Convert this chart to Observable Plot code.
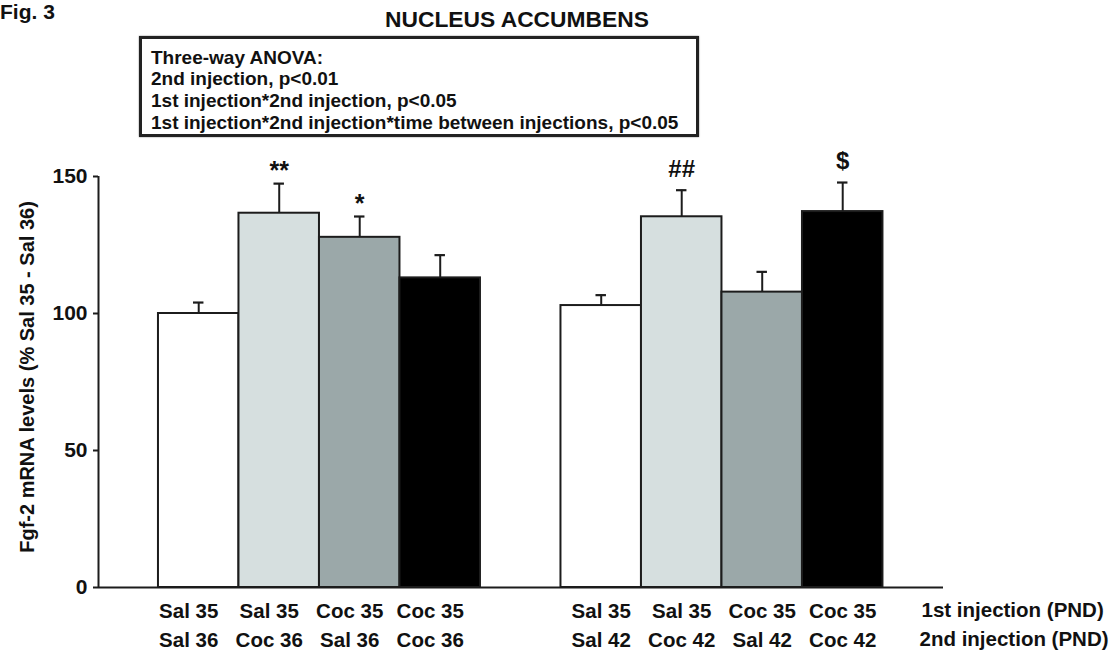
<!DOCTYPE html>
<html><head><meta charset="utf-8">
<script src="https://cdn.jsdelivr.net/npm/d3@7"></script>
<script src="https://cdn.jsdelivr.net/npm/@observablehq/plot@0.6"></script>
<style>
body{margin:0;background:#fff;font-family:"Liberation Sans",Arial,Helvetica,sans-serif;font-weight:bold;color:#111}
#wrap{position:relative;width:1112px;height:657px;overflow:hidden}
#head{position:relative;height:140px}
#fig{position:absolute;left:0;top:0;font-size:21px;line-height:1.1}
#title{position:absolute;left:385px;top:8px;font-size:22.8px;line-height:1}
#box{position:absolute;left:139px;top:36px;width:560px;height:101px;box-sizing:border-box;border:3px solid #222;padding:7.5px 0 0 9px;font-size:19px;line-height:21.7px;white-space:nowrap;box-shadow:0 0 1.5px #777}
#chart svg{display:block}
</style></head><body>
<div id="wrap">
  <div id="head">
    <div id="fig"></div>
    <div id="title"></div>
    <div id="box"></div>
  </div>
  <div id="chart"></div>
</div>
<script>
// ---- data ----
const figLabel = "Fig. 3";
const title = "NUCLEUS ACCUMBENS";
const anovaLines = [
  "Three-way ANOVA:",
  "2nd injection, p<0.01",
  "1st injection*2nd injection, p<0.05",
  "1st injection*2nd injection*time between injections, p<0.05"
];
const firstInjection  = ["Sal 35","Sal 35","Coc 35","Coc 35","Sal 35","Sal 35","Coc 35","Coc 35"];
const secondInjection = ["Sal 36","Coc 36","Sal 36","Coc 36","Sal 42","Coc 42","Sal 42","Coc 42"];
const groupIndex      = [0,0,0,0,1,1,1,1];
const treatment       = ["Sal-Sal","Sal-Coc","Coc-Sal","Coc-Coc","Sal-Sal","Sal-Coc","Coc-Sal","Coc-Coc"];
const means           = [100, 136.6, 127.8, 113.0, 102.9, 135.3, 107.8, 137.2];
const sems            = [4.0, 10.8, 7.6, 8.3, 3.8, 9.7, 7.4, 10.6];
const significance    = ["", "**", "*", "", "", "##", "", "$"];
const yTicks = [0, 50, 100, 150];
const yLabel = "Fgf-2 mRNA levels (% Sal 35 - Sal 36)";
const rowLabels = ["1st injection (PND)", "2nd injection (PND)"];

// ---- styles ----
const treatments = ["Sal-Sal","Sal-Coc","Coc-Sal","Coc-Coc"];
const barColors = ["#ffffff","#d6dfdf","#9ba8a9","#000000"];
const FONT = '"Liberation Sans", Arial, Helvetica, sans-serif';
const INK = "#1c1c1c";

document.getElementById("fig").textContent = figLabel;
document.getElementById("title").textContent = title;
const box = document.getElementById("box");
anovaLines.forEach(t => { const d = document.createElement("div"); d.textContent = t; box.appendChild(d); });

// table built from arrays: slot = position within group + one empty slot between groups
const rows = means.map((m, i) => ({
  first: firstInjection[i], second: secondInjection[i], group: groupIndex[i],
  treatment: treatment[i], mean: m, sem: sems[i], sig: significance[i],
  slot: (i % 4) + groupIndex[i] * 5
}));
const xDomain = [-0.745, 9.752];
const capHalf = 0.065;

const chart = Plot.plot({
  width: 1112, height: 517,
  marginLeft: 98, marginRight: 169, marginTop: 36, marginBottom: 70,
  style: {fontFamily: FONT, fontWeight: "bold", fontSize: "20px", color: "#111", background: "white", overflow: "visible"},
  x: {type: "linear", domain: xDomain, axis: null},
  y: {domain: [0, 150]},
  color: {type: "ordinal", domain: treatments, range: barColors},
  marks: [
    // error bars (upper only)
    Plot.ruleX(rows, {x: d => d.slot + 0.5, y1: "mean", y2: d => d.mean + d.sem, stroke: INK, strokeWidth: 2}),
    Plot.ruleY(rows, {y: d => d.mean + d.sem, x1: d => d.slot + 0.5 - capHalf, x2: d => d.slot + 0.5 + capHalf, stroke: INK, strokeWidth: 2.2}),
    // bars
    Plot.rectY(rows, {x1: "slot", x2: d => d.slot + 1, y1: 0, y2: "mean", fill: "treatment", stroke: INK, strokeWidth: 2}),
    // axes lines
    Plot.ruleY([0], {stroke: INK, strokeWidth: 2}),
    Plot.ruleX([xDomain[0]], {y1: 0, y2: yTicks[yTicks.length - 1], stroke: INK, strokeWidth: 2}),
    Plot.axisY({ticks: yTicks, tickSize: 5, text: null, label: null, stroke: INK, strokeWidth: 2}),
    Plot.text(yTicks, {y: d => d, text: d => String(d), frameAnchor: "left", textAnchor: "end", dx: -11, fontSize: 21, fill: "#111"}),
    // significance markers
    Plot.text(rows.filter(d => d.sig.includes("*")), {x: d => d.slot + 0.5, y: d => d.mean + d.sem, text: "sig", lineAnchor: "bottom", dy: -5, fontSize: 25, fill: "#111"}),
    Plot.text(rows.filter(d => d.sig && !d.sig.includes("*")), {x: d => d.slot + 0.5, y: d => d.mean + d.sem, text: "sig", lineAnchor: "bottom", dy: -13.5, fontSize: 24, fill: "#111"}),
    // category labels
    Plot.text(rows.filter(d => d.group === 0), {x: d => d.slot + 0.5, text: "first", frameAnchor: "bottom", dx: -10, dy: 30, fontSize: 20.5, fill: "#111"}),
    Plot.text(rows.filter(d => d.group === 0), {x: d => d.slot + 0.5, text: "second", frameAnchor: "bottom", dx: -10, dy: 59, fontSize: 20.5, fill: "#111"}),
    Plot.text(rows.filter(d => d.group === 1), {x: d => d.slot + 0.5, text: "first", frameAnchor: "bottom", dy: 30, fontSize: 20.5, fill: "#111"}),
    Plot.text(rows.filter(d => d.group === 1), {x: d => d.slot + 0.5, text: "second", frameAnchor: "bottom", dy: 59, fontSize: 20.5, fill: "#111"}),
    // row labels on the right
    Plot.text([rowLabels[0]], {text: d => d, frameAnchor: "bottom-right", textAnchor: "start", dx: -22, dy: 29, fontSize: 20.5, fill: "#111"}),
    Plot.text([rowLabels[1]], {text: d => d, frameAnchor: "bottom-right", textAnchor: "start", dx: -24, dy: 58, fontSize: 20.5, fill: "#111"}),
    // y label
    Plot.text([yLabel], {text: d => d, frameAnchor: "left", textAnchor: "middle", rotate: -90, dx: -71, dy: -5, fontSize: 20, fill: "#111"})
  ]
});
document.getElementById("chart").appendChild(chart);
</script>
</body></html>
